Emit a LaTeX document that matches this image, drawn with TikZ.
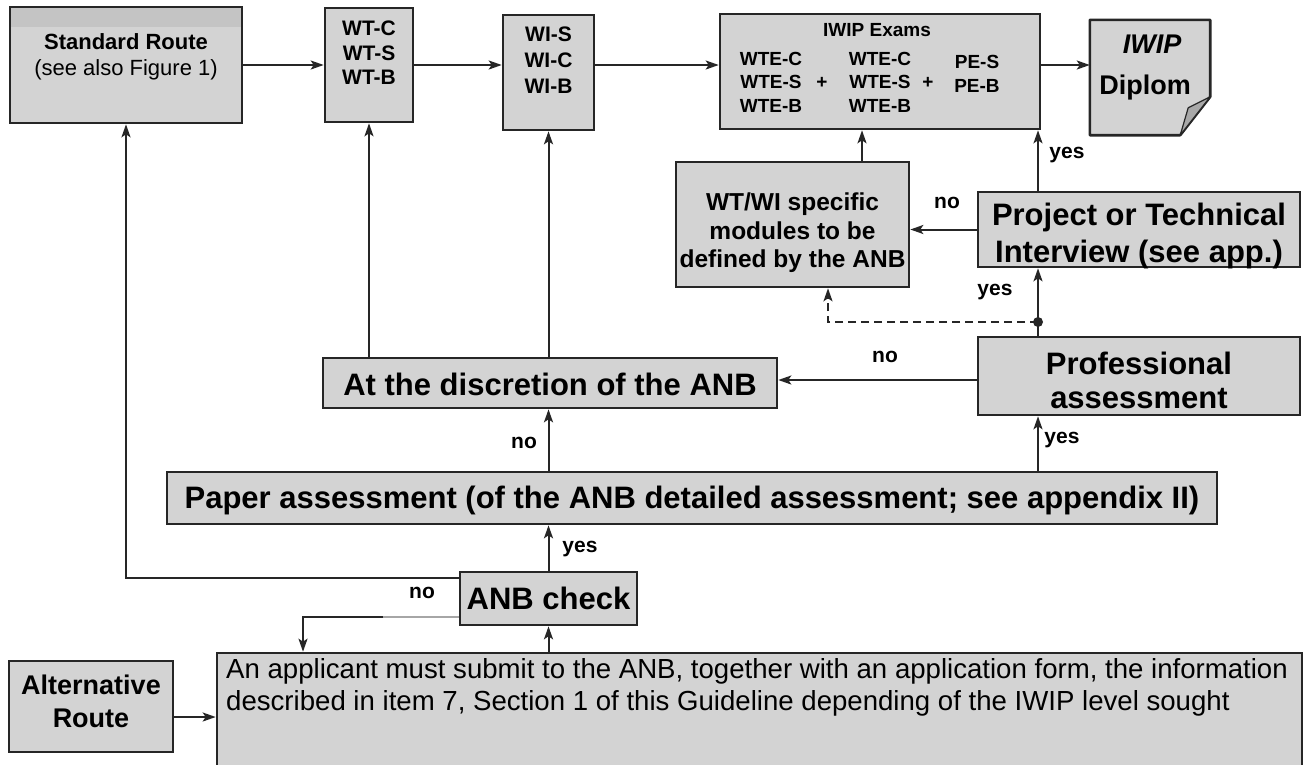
\documentclass[tikz,border=0pt]{standalone}
\usepackage{fontspec}
\setmainfont{Liberation Sans}
\usetikzlibrary{arrows.meta}
\definecolor{boxgray}{HTML}{D3D3D3}
\definecolor{hdrgray}{HTML}{C4C4C4}
\definecolor{darkgray2}{HTML}{C7C7C7}
\definecolor{lightgray2}{HTML}{DCDCDC}
\definecolor{foldgray}{HTML}{A8A8A8}
\definecolor{edge}{HTML}{262626}
\newcommand\fsz[2]{\fontsize{#1}{#2}\selectfont}
\tikzset{
  box/.style={draw=edge, line width=2.6pt, fill=boxgray, inner sep=0pt},
  tip/.style={-{Stealth[length=13pt,width=9pt,inset=3pt]}},
  arr/.style={line width=2pt, draw=edge, tip},
  ln/.style={line width=2pt, draw=edge},
  lab/.style={inner sep=0pt, font=\bfseries\fsz{21}{24}},
  small/.style={inner sep=0pt, align=center, font=\bfseries\fsz{21}{24.5}},
  exam/.style={inner sep=0pt, align=center, font=\bfseries\fsz{19}{23.5}},
  big/.style={inner sep=0pt, align=center, font=\bfseries\fsz{31}{36}},
}
\begin{document}
\begin{tikzpicture}[x=1pt,y=-1pt]
\useasboundingbox[fill=white] (0,0) rectangle (1309,764);

% ---------- top row ----------
\node[box, minimum width=232pt, minimum height=116pt,
  path picture={\fill[hdrgray] (path picture bounding box.north west) rectangle ([yshift=-20pt]path picture bounding box.north east);}]
  (sr) at (126,65) {};
\node[inner sep=0pt, font=\bfseries\fsz{22}{26}] (srt1) at (126,42) {Standard Route};
\node[inner sep=0pt, font=\fsz{22}{26}] (srt2) at (126,70) {(see also Figure 1)};

\node[box, minimum width=88pt, minimum height=114pt] (wt) at (369,65) {};
\node[small] (wtt) at (369,53) {WT-C\\WT-S\\WT-B};

\node[box, minimum width=91pt, minimum height=115pt] (wi) at (548.5,72.5) {};
\node[small, font=\bfseries\fsz{21}{26}] (wit) at (548.5,60) {WI-S\\WI-C\\WI-B};

\node[box, minimum width=320pt, minimum height=115pt,
  path picture={
    \fill[darkgray2] (722,42) rectangle (817,127);
    \fill[hdrgray] (815,16) rectangle (943,62);
    \fill[lightgray2] (817,62) rectangle (943,127);
  }] (iwip) at (880,71.5) {};
\node[inner sep=0pt, font=\bfseries\fsz{19}{23}] (iwh) at (877,30) {IWIP Exams};
\node[exam] (c1) at (771,82) {WTE-C\\WTE-S\\WTE-B};
\node[exam] (p1) at (822,83) {+};
\node[exam] (c2) at (880,82) {WTE-C\\WTE-S\\WTE-B};
\node[exam] (p2) at (928,83) {+};
\node[exam] (c3) at (977,74) {PE-S\\PE-B};

% diploma (document shape)
\node[minimum width=120pt, minimum height=115pt, inner sep=0pt] (dip) at (1150,77.5) {};
\draw[edge, line width=2.6pt, fill=boxgray, line join=round]
  (dip.north west) -- (dip.north east) -- ([yshift=-77pt]dip.north east)
  -- ([xshift=-30pt]dip.south east) -- (dip.south west) -- cycle;
\draw[edge, line width=1.2pt, fill=foldgray, line join=round]
  ([yshift=-77pt]dip.north east) -- ([xshift=-22pt,yshift=-88pt]dip.north east)
  -- ([xshift=-30pt]dip.south east) -- cycle;
\node[inner sep=0pt, font=\bfseries\itshape\fsz{27}{30}] (dip1) at (1152,44) {IWIP};
\node[inner sep=0pt, font=\bfseries\fsz{27}{30}] (dip2) at (1145,88) {Diplom};

% ---------- middle ----------
\node[box, minimum width=233pt, minimum height=125pt] (spec) at (792.5,224.5) {};
\node[small, font=\bfseries\fsz{24.5}{28.5}] (spect) at (792.5,233) {WT/WI specific\\modules to be\\defined by the ANB};

\node[box, minimum width=322pt, minimum height=75pt] (proj) at (1139,229.5) {};
\node[big, font=\bfseries\fsz{31}{37}] (projt) at (1139,236) {Project or Technical\\Interview (see app.)};

\node[box, minimum width=322pt, minimum height=78pt] (prof) at (1139,376) {};
\node[big, font=\bfseries\fsz{31}{34}] (proft) at (1139,380) {Professional\\assessment};

\node[box, minimum width=454pt, minimum height=50pt] (disc) at (550,383) {};
\node[big] (disct) at (550,384) {At the discretion of the ANB};

\node[box, minimum width=1050pt, minimum height=52pt] (paper) at (692,498) {};
\node[big] (papert) at (692,500) {Paper assessment (of the ANB detailed assessment; see appendix II)};

\node[box, minimum width=177pt, minimum height=53pt] (anb) at (548.5,598.5) {};
\node[big] (anbt) at (548.5,598) {ANB check};

% ---------- bottom ----------
\node[box, minimum width=1085pt, minimum height=120pt] (app) at (759.5,713) {};
\node[inner sep=0pt, anchor=base west, font=\fsz{27.6}{32}] (app1) at (226,678)
  {An applicant must submit to the ANB, together with an application form, the information};
\node[inner sep=0pt, anchor=base west, font=\fsz{27.6}{32}] (app2) at (226,710)
  {described in item 7, Section 1 of this Guideline depending of the IWIP level sought};

\node[box, minimum width=164pt, minimum height=91pt] (alt) at (91,706.5) {};
\node[big, font=\bfseries\fsz{27}{33}] (altt) at (91,701.5) {Alternative\\Route};

% ---------- helper coordinates ----------
\coordinate (yTop) at (0,65);
\coordinate (xs) at (862,0);
\coordinate (xp) at (1038,0);
\coordinate (dot) at (1038,322);
\coordinate (dl) at (828,322);
\coordinate (yPD) at (0,380);
\coordinate (yU) at (0,578);
\coordinate (cL) at (303,617);
\coordinate (cG) at (383,617);
\coordinate (yAlt) at (0,717);

% ---------- connectors ----------
\draw[arr] (sr.east |- yTop) -- (wt.west |- yTop);
\draw[arr] (wt.east |- yTop) -- (wi.west |- yTop);
\draw[arr] (wi.east |- yTop) -- (iwip.west |- yTop);
\draw[arr] (iwip.east |- yTop) -- (dip.west |- yTop);

\draw[arr] (xs |- spec.north) -- (xs |- iwip.south);
\draw[arr] (xp |- proj.north) -- (xp |- iwip.south);
\draw[arr] (proj.west) -- (proj.west -| spec.east);

\draw[arr] (xp |- prof.north) -- (xp |- proj.south);
\fill[edge] (dot) circle (5pt);
\draw[ln, dash pattern=on 8pt off 5pt, tip] (dot) -- (dl) -- (dl |- spec.south);

\draw[arr] (prof.west |- yPD) -- (disc.east |- yPD);
\draw[arr] (wt.south |- disc.north) -- (wt.south);
\draw[arr] (wi.south |- disc.north) -- (wi.south);

\draw[arr] (anb.north |- paper.north) -- (anb.north |- disc.south);
\draw[arr] (xp |- paper.north) -- (xp |- prof.south);
\draw[arr] (anb.north) -- (anb.north |- paper.south);
\draw[arr] (anb.south |- app.north) -- (anb.south);

\draw[arr] (anb.west |- yU) -| (sr.south);
\draw[line width=2pt, draw=gray!70] (anb.west |- cL) -- (cG);
\draw[arr] (cG) -- (cL) -- (cL |- app.north);

\draw[arr] (alt.east |- yAlt) -- (app.west |- yAlt);

% ---------- labels ----------
\node[lab] (l1) at (1067,155) {yes};
\node[lab] (l2) at (947,203) {no};
\node[lab] (l3) at (995,292) {yes};
\node[lab] (l4) at (885,357) {no};
\node[lab] (l5) at (524,443) {no};
\node[lab] (l6) at (1062,440) {yes};
\node[lab] (l7) at (580,549) {yes};
\node[lab] (l8) at (422,593) {no};
\end{tikzpicture}
\end{document}
